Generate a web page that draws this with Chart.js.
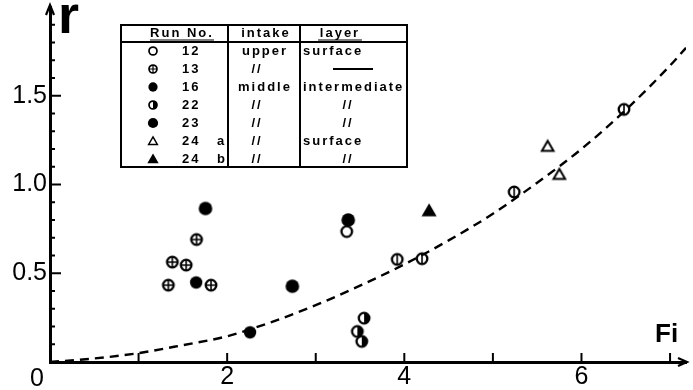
<!DOCTYPE html>
<html>
<head>
<meta charset="utf-8">
<script src="https://cdn.jsdelivr.net/npm/chart.js@4.4.1/dist/chart.umd.min.js"></script>
<style>
  html, body { margin: 0; padding: 0; background: #fff; }
</style>
</head>
<body>
<canvas id="chart" width="693" height="390"></canvas>
<script>
// values: Fi (x) and r (y) per run
const run12Fi = [3.35, 3.92, 4.2, 5.24, 6.48];
const run12R = [0.735, 0.578, 0.582, 0.958, 1.423];
const run13Fi = [1.336, 1.381, 1.537, 1.654, 1.818];
const run13R = [0.433, 0.563, 0.546, 0.69, 0.433];
const run16Fi = [2.258, 1.65];
const run16R = [0.167, 0.448];
const run22Fi = [3.546, 3.47, 3.52];
const run22R = [0.247, 0.172, 0.116];
const run23Fi = [1.755, 2.736, 3.367];
const run23R = [0.865, 0.427, 0.80];
const run24aFi = [5.618, 5.75];
const run24aR = [1.215, 1.057];
const run24bFi = [4.28];
const run24bR = [0.852];

// dashed fitted curve, read at points along it
const curveFi = [0, 0.5, 1, 1.5, 2, 2.5, 3, 3.5, 4, 4.5, 5, 5.5, 6, 6.5, 7, 7.18];
const curveR = [0, 0.02, 0.05, 0.095, 0.145, 0.225, 0.32, 0.43, 0.55, 0.685, 0.835, 1.01, 1.2, 1.42, 1.67, 1.77];

// legend table
const tableRun = ["12", "13", "16", "22", "23", "24", "24"];
const tableSub = ["", "", "", "", "", "a", "b"];
const tableIntake = ["upper", "//", "middle", "//", "//", "//", "//"];
const tableLayer = ["surface", "—", "intermediate", "//", "//", "surface", "//"];
const tableKinds = ["open", "plus", "filled", "half", "big", "tri", "trifill"];

const FONT = "'Liberation Sans', Arial, sans-serif";

function pts(xs, ys) {
  return xs.map((x, i) => ({ x: x, y: ys[i] }));
}

// small canvases used as point symbols
function makeSymbol(kind, s) {
  const size = Math.ceil(16 * s);
  const c = document.createElement("canvas");
  c.width = size;
  c.height = size;
  const g = c.getContext("2d");
  const m = size / 2;
  g.strokeStyle = "#000";
  g.fillStyle = "#000";
  g.lineWidth = 2.3 * s;
  const rad = 5.3 * s;
  if (kind === "filled" || kind === "big") {
    g.beginPath();
    g.arc(m, m, kind === "big" ? 6.8 * s : 6.2 * s, 0, Math.PI * 2);
    g.fill();
    return c;
  }
  if (kind === "tri" || kind === "trifill") {
    g.beginPath();
    g.moveTo(m, m - 5.5 * s);
    g.lineTo(m + 5.8 * s, m + 4.5 * s);
    g.lineTo(m - 5.8 * s, m + 4.5 * s);
    g.closePath();
    if (kind === "trifill") g.fill();
    g.lineWidth = 2 * s;
    g.stroke();
    return c;
  }
  g.beginPath();
  g.arc(m, m, rad, 0, Math.PI * 2);
  g.stroke();
  g.lineWidth = 1.6 * s;
  if (kind === "plus") {
    g.beginPath();
    g.moveTo(m - rad, m); g.lineTo(m + rad, m);
    g.moveTo(m, m - rad); g.lineTo(m, m + rad);
    g.stroke();
  }
  if (kind === "phi") {
    g.beginPath();
    g.moveTo(m, m - rad); g.lineTo(m, m + rad);
    g.stroke();
  }
  if (kind === "half") {
    g.beginPath();
    g.arc(m, m, rad, -Math.PI / 2, Math.PI / 2);
    g.closePath();
    g.fill();
  }
  return c;
}

const sym = {};
const symSmall = {};
["open", "phi", "plus", "filled", "half", "big", "tri", "trifill"].forEach((k) => {
  sym[k] = makeSymbol(k, 1);
  symSmall[k] = makeSymbol(k, 0.75);
});

function scatterSet(label, data, style) {
  return {
    type: "scatter",
    label: label,
    data: data,
    pointStyle: style,
    pointRadius: 6,
    order: 1,
  };
}

const decorations = {
  id: "decorations",
  afterDraw(chart) {
    const ctx = chart.ctx;
    const xs = chart.scales.x;
    const ys = chart.scales.y;
    const a = chart.chartArea;
    ctx.save();
    ctx.strokeStyle = "#000";
    ctx.fillStyle = "#000";

    // ticks pointing inward
    ctx.lineWidth = 2;
    for (let i = 1; i <= 7; i++) {
      const px = xs.getPixelForValue(i);
      ctx.beginPath();
      ctx.moveTo(px, a.bottom);
      ctx.lineTo(px, a.bottom - 9);
      ctx.stroke();
    }
    for (let k = 1; k <= 19; k++) {
      const py = ys.getPixelForValue(k / 10);
      ctx.beginPath();
      ctx.moveTo(a.left, py);
      ctx.lineTo(a.left + (k % 5 === 0 ? 11 : 5), py);
      ctx.stroke();
    }

    // arrow heads
    ctx.lineWidth = 2.2;
    ctx.beginPath();
    ctx.moveTo(a.left - 4, a.top + 8);
    ctx.lineTo(a.left, a.top - 2);
    ctx.lineTo(a.left + 4, a.top + 8);
    ctx.stroke();
    ctx.beginPath();
    ctx.moveTo(a.right - 8, a.bottom - 4);
    ctx.lineTo(a.right + 1, a.bottom);
    ctx.lineTo(a.right - 8, a.bottom + 4);
    ctx.stroke();

    // axis names and origin
    ctx.textBaseline = "alphabetic";
    ctx.textAlign = "left";
    ctx.font = "bold 54px " + FONT;
    ctx.fillText("r", 58, 33);
    ctx.font = "bold 26px " + FONT;
    ctx.fillText("Fi", 655, 342);
    ctx.font = "25px " + FONT;
    ctx.textAlign = "center";
    ctx.fillText("0", 37, 386);

    // legend table
    const L = 121, R = 407, T = 25, B = 167;
    ctx.lineWidth = 2;
    ctx.beginPath();
    ctx.rect(L, T, R - L, B - T);
    ctx.moveTo(L, 42); ctx.lineTo(R, 42);
    ctx.moveTo(228, T); ctx.lineTo(228, B);
    ctx.moveTo(300, T); ctx.lineTo(300, B);
    ctx.stroke();

    ctx.font = "bold 13px " + FONT;
    ctx.letterSpacing = "2px";
    ctx.textBaseline = "middle";
    ctx.textAlign = "center";
    ctx.fillText("Run No.", 182, 33);
    ctx.fillText("intake", 266, 33);
    ctx.fillText("layer", 340, 33);
    ctx.lineWidth = 1.2;
    ctx.beginPath();
    ctx.moveTo(150, 40); ctx.lineTo(214, 40);
    ctx.moveTo(318, 40); ctx.lineTo(362, 40);
    ctx.stroke();

    tableRun.forEach((run, i) => {
      const y = 51 + 18 * i;
      const s = symSmall[tableKinds[i]];
      ctx.drawImage(s, 153 - s.width / 2, y - s.height / 2);
      ctx.textAlign = "left";
      ctx.fillText(run, 182, y);
      if (tableSub[i]) ctx.fillText(tableSub[i], 217, y);
      ctx.textAlign = "center";
      ctx.fillText(tableIntake[i], tableIntake[i] === "//" ? 257 : 265, y);
      const lay = tableLayer[i];
      if (lay === "—") {
        ctx.lineWidth = 1.8;
        ctx.beginPath();
        ctx.moveTo(333, y); ctx.lineTo(373, y);
        ctx.stroke();
      } else if (lay === "//") {
        ctx.fillText(lay, 348, y);
      } else {
        ctx.textAlign = "left";
        ctx.fillText(lay, 303, y);
      }
    });
    ctx.restore();
  },
};

new Chart(document.getElementById("chart").getContext("2d"), {
  type: "scatter",
  data: {
    datasets: [
      {
        type: "line",
        label: "fit",
        data: pts(curveFi, curveR),
        borderColor: "#000",
        borderWidth: 2.4,
        borderDash: [9, 6],
        pointRadius: 0,
        fill: false,
        cubicInterpolationMode: "monotone",
        order: 2,
      },
      scatterSet("12", pts(run12Fi, run12R), [sym.open, sym.phi, sym.phi, sym.phi, sym.phi]),
      scatterSet("13", pts(run13Fi, run13R), sym.plus),
      scatterSet("16", pts(run16Fi, run16R), sym.filled),
      scatterSet("22", pts(run22Fi, run22R), sym.half),
      scatterSet("23", pts(run23Fi, run23R), sym.big),
      scatterSet("24 a", pts(run24aFi, run24aR), sym.tri),
      scatterSet("24 b", pts(run24bFi, run24bR), sym.trifill),
    ],
  },
  options: {
    responsive: false,
    animation: false,
    layout: { padding: { top: 5, right: 2, left: 0, bottom: 0 } },
    plugins: { legend: { display: false }, tooltip: { enabled: false } },
    scales: {
      x: {
        type: "linear",
        min: 0,
        max: 7.18,
        afterFit: (s) => { s.height = 28; s.paddingLeft = 0; s.paddingRight = 0; },
        grid: { display: false, drawTicks: false },
        border: { display: true, width: 3, color: "#000" },
        ticks: {
          stepSize: 2,
          padding: 0,
          color: "#000",
          autoSkip: false,
          maxRotation: 0,
          font: { family: FONT, size: 25 },
          callback: (v) => (v > 0 && Number.isInteger(v) && v % 2 === 0 ? String(v) : ""),
        },
      },
      y: {
        type: "linear",
        min: 0,
        max: 2.0,
        afterFit: (s) => { s.width = 50; s.paddingTop = 0; s.paddingBottom = 0; },
        grid: { display: false, drawTicks: false },
        border: { display: true, width: 3, color: "#000" },
        ticks: {
          stepSize: 0.5,
          padding: 3,
          color: "#000",
          font: { family: FONT, size: 25 },
          callback: (v) => (v > 0 && v < 2 ? v.toFixed(1) : ""),
        },
      },
    },
  },
  plugins: [decorations],
});
</script>
</body>
</html>
